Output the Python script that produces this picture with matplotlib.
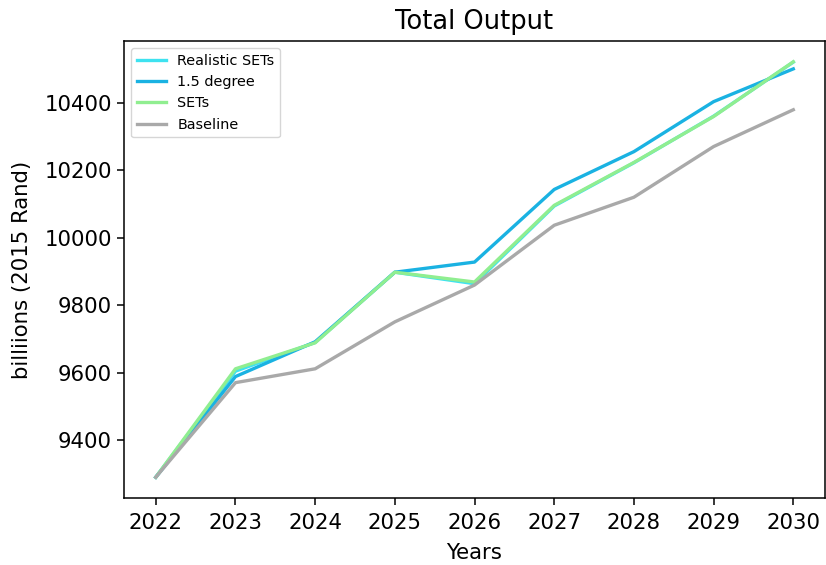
import matplotlib
matplotlib.use("Agg")
import matplotlib.pyplot as plt

years = [2022, 2023, 2024, 2025, 2026, 2027, 2028, 2029, 2030]

realistic_sets = [9291, 9605, 9690, 9898, 9864, 10094, 10222, 10360, 10520]
one_point_five = [9291, 9589, 9692, 9898, 9928, 10143, 10255, 10403, 10500]
sets = [9291, 9612, 9689, 9898, 9869, 10096, 10223, 10359, 10521]
baseline = [9291, 9571, 9612, 9751, 9860, 10037, 10120, 10270, 10379]

fig = plt.figure(figsize=(8.26, 5.65), dpi=100)
ax = fig.add_axes([0.150, 0.1186, 0.849, 0.8088])

lw = 2.4
ax.plot(years, realistic_sets, color="#3ee2f0", lw=lw, label="Realistic SETs")
ax.plot(years, one_point_five, color="#1ab2e2", lw=lw, label="1.5 degree")
ax.plot(years, sets, color="#90ee90", lw=lw, label="SETs")
ax.plot(years, baseline, color="#a9a9a9", lw=lw, label="Baseline")

ax.set_xticks(years)
ax.set_yticks([9400, 9600, 9800, 10000, 10200, 10400])
ax.tick_params(labelsize=15.3, length=5, width=1.1)
ax.tick_params(axis="x", pad=6)
for s in ax.spines.values():
    s.set_linewidth(1.1)
ax.set_title("Total Output", fontsize=18.5, pad=9)
ax.set_xlabel("Years", fontsize=15.3, labelpad=7)
ax.set_ylabel("billiions (2015 Rand)", fontsize=15.3, labelpad=9)
ax.legend(loc="upper left", fontsize=10.4)

fig.savefig("out.png", dpi=100)
